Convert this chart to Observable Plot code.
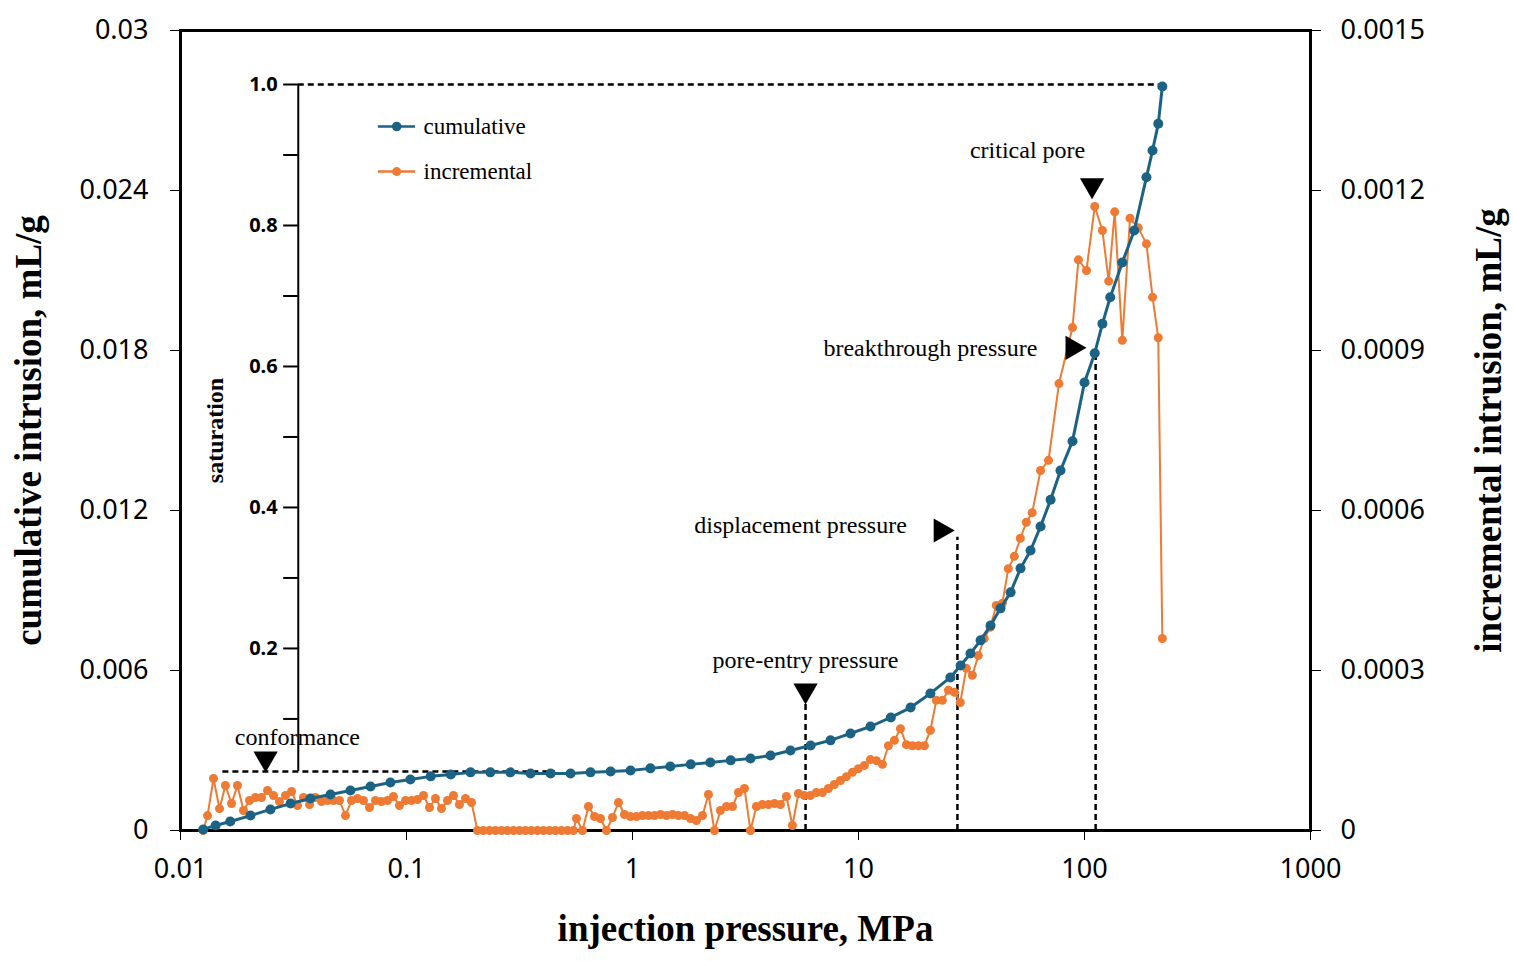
<!DOCTYPE html>
<html><head><meta charset="utf-8">
<script src="https://cdn.jsdelivr.net/npm/d3@7"></script>
<script src="https://cdn.jsdelivr.net/npm/@observablehq/plot@0.6"></script>
<style>
body{margin:0;background:#fff}
g[aria-label$="axis label"] text{font-family:"Liberation Serif",serif;font-weight:bold;font-size:37px}
</style></head><body><div id="c"></div>
<script>
const cumP=[0.0126,0.0143,0.0166,0.0204,0.025,0.0307,0.0376,0.0461,0.0565,0.0693,0.0849,0.104,0.128,0.157,0.192,0.235,0.288,0.354,0.434,0.532,0.652,0.80,0.98,1.20,1.47,1.81,2.21,2.72,3.33,4.08,5.0,6.14,7.52,9.22,11.3,13.9,17.0,20.8,25.5,28.3,31.3,34.7,38.4,42.5,47.1,52.1,57.7,63.9,70.8,78.3,88.5,100,111,120,130,147,166,188,200,212,221];
const cumV=[0.00004,0.00019,0.00034,0.00056,0.00079,0.00101,0.0012,0.00135,0.0015,0.00165,0.0018,0.00191,0.00203,0.0021,0.00218,0.00218,0.00218,0.00214,0.00214,0.00214,0.00218,0.00221,0.00225,0.00233,0.0024,0.00248,0.00255,0.00263,0.0027,0.00281,0.003,0.00319,0.00338,0.00364,0.0039,0.00424,0.00461,0.00514,0.00574,0.00619,0.00664,0.00713,0.00769,0.00833,0.00893,0.00983,0.0105,0.0114,0.0124,0.0135,0.0146,0.0168,0.0179,0.019,0.02,0.0213,0.0225,0.0245,0.0255,0.0265,0.0279];
const incP=[0.0126,0.01317,0.0140,0.01488,0.0158,0.01682,0.01787,0.0190,0.0202,0.02147,0.02282,0.02427,0.0258,0.02742,0.02915,0.031,0.03295,0.035,0.03723,0.03957,0.04207,0.04472,0.04753,0.05052,0.0537,0.05709,0.06068,0.0645,0.06857,0.07289,0.07748,0.08236,0.08755,0.09306,0.0990,0.1052,0.1118,0.1189,0.1264,0.1343,0.1428,0.1518,0.1614,0.1715,0.1824,0.1939,0.2061,0.2191,0.2329,0.2476,0.2632,0.2798,0.2974,0.3161,0.3361,0.3572,0.3797,0.4037,0.4291,0.4561,0.4849,0.5154,0.5479,0.5651,0.6007,0.6386,0.6788,0.7216,0.7671,0.8154,0.8668,0.9214,0.9795,1.041,1.107,1.177,1.251,1.330,1.414,1.503,1.597,1.698,1.805,1.919,2.040,2.168,2.305,2.450,2.605,2.769,2.943,3.129,3.326,3.535,3.758,3.995,4.247,4.514,4.799,5.101,5.423,5.764,6.127,6.513,6.923,7.36,7.82,8.32,8.84,9.40,9.99,10.62,11.29,12.0,12.76,13.56,14.42,15.33,16.29,17.32,18.41,19.57,20.8,22.1,23.5,25.0,26.6,28.2,30.0,31.9,33.9,36.0,38.3,40.7,43.3,46.0,48.9,52.0,55.3,58.7,63.9,69.3,77.1,88.5,94.0,102,111,120,128,136,147,159,173,188,200,212,221];
const incV=[0,0.000028,0.0000975,0.000041,0.0000844,0.0000506,0.0000844,0.0000375,0.0000563,0.0000619,0.0000619,0.000075,0.0000656,0.0000544,0.0000656,0.0000731,0.0000469,0.0000619,0.0000488,0.0000619,0.0000544,0.0000563,0.0000563,0.0000563,0.000028,0.0000563,0.00006,0.0000563,0.0000431,0.0000563,0.0000544,0.0000563,0.0000638,0.0000469,0.0000563,0.0000563,0.0000581,0.0000656,0.0000431,0.00006,0.0000413,0.0000563,0.0000656,0.0000488,0.00006,0.0000525,0,0,0,0,0,0,0,0,0,0,0,0,0,0,0,0,0,0.0000225,0,0.000045,0.0000263,0.0000225,0,0.0000244,0.0000525,0.00003,0.0000263,0.0000263,0.0000281,0.0000281,0.0000281,0.00003,0.0000281,0.00003,0.0000281,0.0000281,0.0000225,0.0000188,0.0000281,0.0000675,0,0.0000375,0.000045,0.000045,0.0000713,0.0000788,0,0.000045,0.0000488,0.0000488,0.0000506,0.0000488,0.0000638,0.0000094,0.0000694,0.0000656,0.0000656,0.0000713,0.0000713,0.0000788,0.0000863,0.0000938,0.000101,0.000109,0.000116,0.000122,0.000133,0.000131,0.000124,0.000159,0.000169,0.000191,0.000161,0.000159,0.000159,0.000159,0.000188,0.000244,0.000244,0.000263,0.000259,0.00024,0.000304,0.000291,0.000328,0.00036,0.000381,0.000422,0.000426,0.000491,0.000514,0.000548,0.000578,0.000596,0.000675,0.000694,0.000838,0.000943,0.00107,0.00105,0.00117,0.001125,0.00103,0.00116,0.000919,0.001148,0.00113,0.0011,0.001,0.000924,0.00036];
const xTicks=[0.01,0.1,1,10,100,1000];
const yTicks=[0,0.006,0.012,0.018,0.024,0.03];
const satTicks=[0.1,0.2,0.3,0.4,0.5,0.6,0.7,0.8,0.9,1.0];
const satLabels=[0.2,0.4,0.6,0.8,1.0];
const annText=["conformance","pore-entry pressure","displacement pressure","breakthrough pressure","critical pore"];
const annX=[0.0329,5.83,5.54,20.8,56];
const annY=[0.00349,0.00638,0.01144,0.0181,0.0255];
const triX=[0.0238,5.83,23.1,88.5,108];
const triY=[0.0027,0.00525,0.01125,0.0181,0.0242];
const triRot=[180,180,90,90,180];
const vLineX=[5.83,27.4,112];
const vLineTop=[0.0049,0.011,0.0179];

const BLUE="#1b6285", ORANGE="#ee7a33", K=20;
const sat0=0.00154, sat1=0.027975, satX=0.0332, satTickX=0.0286;
const s2c=s=>sat0+s*(sat1-sat0);
const cum=cumP.map((p,i)=>({p,v:cumV[i]}));
const inc=incP.map((p,i)=>({p,v:incV[i]*K}));
const ann=annText.map((t,i)=>({t,x:annX[i],y:annY[i]}));
const tri=triX.map((x,i)=>({x,y:triY[i],r:triRot[i]}));
const dash={stroke:"black",strokeWidth:2.5,strokeDasharray:"6,4"};
const SERIF="Liberation Serif";

const chart=Plot.plot({
  width:1513,height:961,marginLeft:180,marginRight:203,marginTop:30,marginBottom:131,
  style:{fontSize:"27px",fontFamily:"Noto Sans"},
  x:{type:"log",domain:[0.01,1000]},
  y:{domain:[0,0.03]},
  marks:[
    Plot.axisX({ticks:xTicks,tickFormat:d=>String(d),tickSize:10,tickPadding:18,label:"injection pressure, MPa",labelAnchor:"center",labelArrow:"none",labelOffset:110,fontSize:27}),
    Plot.axisY({ticks:yTicks,tickFormat:d=>d===0?"0":String(+d.toFixed(3)),tickSize:10,tickPadding:22,label:"cumulative intrusion, mL/g",labelAnchor:"center",labelArrow:"none",labelOffset:166,fontSize:27}),
    Plot.axisY({anchor:"right",ticks:yTicks,tickFormat:d=>d===0?"0":String(+(d/K).toFixed(4)),tickSize:10,tickPadding:20,label:"incremental intrusion, mL/g",labelAnchor:"center",labelArrow:"none",labelOffset:190,fontSize:27}),
    Plot.frame({stroke:"black",strokeWidth:3}),
    Plot.ruleX([satX],{y1:0.00221,y2:sat1,stroke:"black",strokeWidth:2}),
    Plot.ruleY(satTicks,{y:s2c,x1:satTickX,x2:satX,stroke:"black",strokeWidth:2}),
    Plot.text(satLabels,{y:s2c,x:satTickX,text:d=>d.toFixed(1),dx:-6,textAnchor:"end",fontWeight:"bold",fontSize:20}),
    Plot.text(["saturation"],{x:0.0143,y:0.015,rotate:-90,fontWeight:"bold",fontSize:24,fontFamily:SERIF}),
    Plot.ruleY([sat1],{x1:satX,x2:220,...dash}),
    Plot.ruleY([0.00221],{x1:0.0154,x2:0.456,...dash}),
    Plot.ruleX(vLineX,{y1:0,y2:(d,i)=>vLineTop[i],...dash}),
    Plot.line(inc,{x:"p",y:"v",stroke:ORANGE,strokeWidth:2}),
    Plot.dot(inc,{x:"p",y:"v",fill:ORANGE,r:4.5}),
    Plot.line(cum,{x:"p",y:"v",stroke:BLUE,strokeWidth:3}),
    Plot.dot(cum,{x:"p",y:"v",fill:BLUE,r:5}),
    Plot.ruleY([0.0264],{x1:0.0751,x2:0.1096,stroke:BLUE,strokeWidth:2.5}),
    Plot.dot([0.0264],{x:0.0905,y:d=>d,fill:BLUE,r:4.8}),
    Plot.ruleY([0.02471],{x1:0.0751,x2:0.1096,stroke:ORANGE,strokeWidth:2.5}),
    Plot.dot([0.02471],{x:0.0905,y:d=>d,fill:ORANGE,r:4.5}),
    Plot.text(["cumulative","incremental"],{x:0.119,y:(d,i)=>[0.0264,0.02471][i],text:d=>d,textAnchor:"start",fontSize:23,fontFamily:SERIF}),
    Plot.text(ann,{x:"x",y:"y",text:"t",fontSize:24,fontFamily:SERIF}),
    Plot.dot(tri,{x:"x",y:"y",symbol:"triangle",rotate:"r",fill:"black",r:9})
  ]
});
document.getElementById("c").append(chart);
</script></body></html>
